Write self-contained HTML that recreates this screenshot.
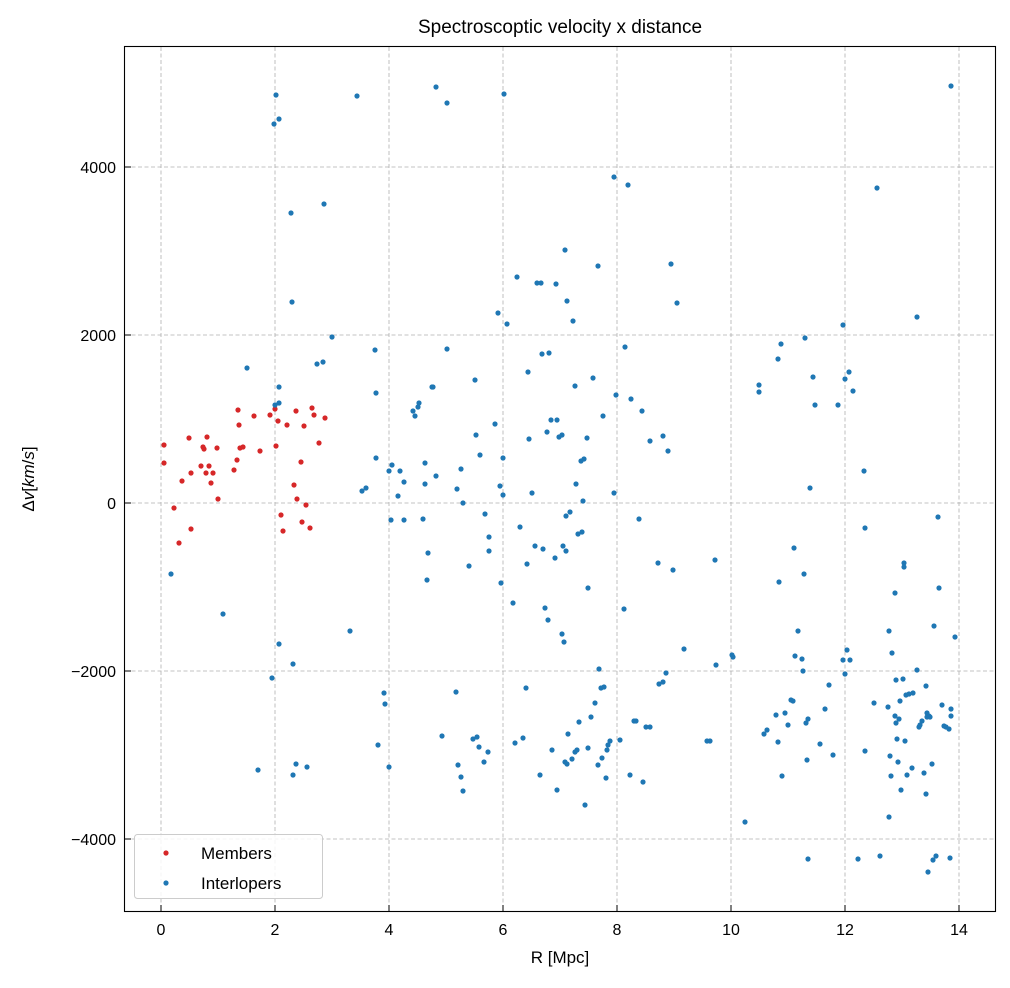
<!DOCTYPE html>
<html><head><meta charset="utf-8"><style>
html,body{margin:0;padding:0;background:#fff;}
svg text{font-family:"Liberation Sans","DejaVu Sans",sans-serif;fill:#000;}
</style></head><body>
<svg id="s" width="1010" height="983" xmlns="http://www.w3.org/2000/svg">
<rect width="1010" height="983" fill="#fff"/>
<g id="grid" stroke="#b0b0b0" stroke-width="0.8" stroke-dasharray="4,2.5"></g>
<g id="pts"></g>
<rect x="124.5" y="46.5" width="871" height="865" fill="none" stroke="#000" stroke-width="1.1"/>
<g id="ticks" stroke="#000" stroke-width="1"></g>
<g id="labels" font-size="16"></g>
<text x="560" y="33" font-size="19" text-anchor="middle">Spectroscoptic velocity x distance</text>
<text x="560" y="963" font-size="17" text-anchor="middle">R [Mpc]</text>
<text transform="translate(34,479) rotate(-90)" font-size="17" text-anchor="middle">Δ<tspan font-style="italic">v</tspan>[<tspan font-style="italic">km</tspan>/<tspan font-style="italic">s</tspan>]</text>
<rect x="134.5" y="834.5" width="188" height="64" rx="3" fill="#fff" fill-opacity="0.85" stroke="#ccc"/>
<circle cx="166" cy="853" r="2.6" fill="#d62728"/>
<circle cx="166" cy="883" r="2.6" fill="#1f77b4"/>
<text x="201" y="859" font-size="17">Members</text>
<text x="201" y="889" font-size="17">Interlopers</text>
</svg>
<script>
var NS="http://www.w3.org/2000/svg";
function el(p,t,a){var e=document.createElementNS(NS,t);for(var k in a)e.setAttribute(k,a[k]);document.getElementById(p).appendChild(e);return e;}
for(var i=0;i<=7;i++){var x=161+114*i;el("grid","line",{x1:x,x2:x,y1:47,y2:911});el("ticks","line",{x1:x,x2:x,y1:911,y2:905});var t=el("labels","text",{x:x,y:935,"text-anchor":"middle"});t.textContent=2*i;}
var yv=[4000,2000,0,-2000,-4000];
for(var j=0;j<5;j++){var y=167+168*j;el("grid","line",{x1:125,x2:995,y1:y,y2:y});el("ticks","line",{x1:125,x2:131,y1:y,y2:y});var t=el("labels","text",{x:116,y:y+6,"text-anchor":"end"});t.textContent=String(yv[j]).replace("-","−");}
var red=[[164,445],[164,463],[174,508],[179,543],[182,481],[189,438],[191,529],[191,473],[201,466],[203,447],[204,449],[206,473],[207,437],[209,466],[211,483],[213,473],[217,448],[218,499],[234,470],[237,460],[238,410],[239,425],[240,448],[243,447],[254,416],[260,451],[270,415],[275,409],[276,446],[278,421],[281,515],[283,531],[287,425],[294,485],[296,411],[297,499],[301,462],[302,522],[304,426],[306,505],[310,528],[312,408],[314,415],[319,443],[325,418]];
var blue=[[171,574],[223,614],[247,368],[258,770],[272,678],[275,405],[276,95],[274,124],[279,119],[279,387],[279,403],[279,644],[291,213],[292,302],[293,664],[293,775],[296,764],[307,767],[317,364],[324,204],[323,362],[332,337],[350,631],[357,96],[436,87],[447,103],[362,491],[366,488],[375,350],[376,393],[376,458],[378,745],[384,693],[385,704],[389,471],[389,767],[391,520],[392,465],[398,496],[400,471],[404,482],[404,520],[413,411],[415,416],[418,407],[419,403],[423,519],[425,463],[425,484],[427,580],[428,553],[432,387],[433,387],[436,476],[442,736],[447,349],[456,692],[457,489],[458,765],[461,777],[461,469],[463,503],[463,791],[469,566],[473,739],[475,380],[476,435],[477,737],[479,747],[480,455],[484,762],[485,514],[488,752],[489,537],[489,551],[495,424],[498,313],[500,486],[501,583],[503,458],[503,495],[504,94],[507,324],[513,603],[515,743],[517,277],[520,527],[523,738],[526,688],[527,564],[528,372],[529,439],[532,493],[535,546],[537,283],[540,775],[542,354],[543,549],[545,608],[547,432],[548,620],[549,353],[551,420],[552,750],[555,558],[556,284],[557,420],[557,790],[559,437],[562,435],[562,634],[563,546],[564,642],[565,250],[565,762],[566,551],[566,516],[567,301],[567,764],[568,734],[570,512],[572,759],[573,321],[575,386],[575,752],[576,484],[577,750],[578,534],[579,722],[581,461],[582,532],[583,501],[584,459],[585,805],[587,438],[588,588],[588,748],[591,717],[593,378],[595,703],[598,765],[599,669],[601,688],[602,758],[603,416],[604,687],[606,778],[607,750],[608,745],[610,741],[614,177],[614,493],[616,395],[620,740],[624,609],[625,347],[628,185],[630,775],[631,399],[634,721],[636,721],[639,519],[642,411],[643,782],[646,727],[650,441],[650,727],[658,563],[659,684],[663,436],[663,682],[666,673],[668,451],[671,264],[673,570],[677,303],[684,649],[707,741],[710,741],[715,560],[716,665],[732,655],[733,657],[745,822],[759,385],[759,392],[764,734],[767,730],[776,715],[778,359],[778,742],[779,582],[781,344],[782,776],[785,713],[788,725],[791,700],[793,701],[794,548],[795,656],[798,631],[802,659],[803,671],[804,574],[805,338],[806,723],[807,760],[808,859],[808,719],[810,488],[813,377],[815,405],[820,744],[825,709],[829,685],[833,755],[838,405],[843,660],[843,325],[845,379],[845,674],[847,650],[849,372],[850,660],[853,391],[858,859],[864,471],[865,528],[865,751],[874,703],[877,188],[880,856],[888,707],[889,631],[889,817],[890,756],[891,776],[892,653],[895,716],[895,593],[896,680],[896,723],[897,739],[898,762],[899,719],[900,701],[901,790],[903,679],[904,563],[904,567],[905,741],[906,695],[907,775],[909,694],[912,768],[913,693],[917,317],[917,670],[919,727],[920,725],[922,721],[924,773],[926,686],[926,794],[927,713],[927,717],[928,872],[929,716],[930,717],[932,764],[933,860],[934,626],[936,856],[938,517],[939,588],[942,705],[944,726],[946,727],[949,729],[950,858],[951,86],[951,716],[951,709],[955,637],[598,266],[541,283]];
red.forEach(function(p){el("pts","circle",{cx:p[0],cy:p[1],r:2.6,fill:"#d62728"});});
blue.forEach(function(p){el("pts","circle",{cx:p[0],cy:p[1],r:2.6,fill:"#1f77b4"});});
</script>
</body></html>
